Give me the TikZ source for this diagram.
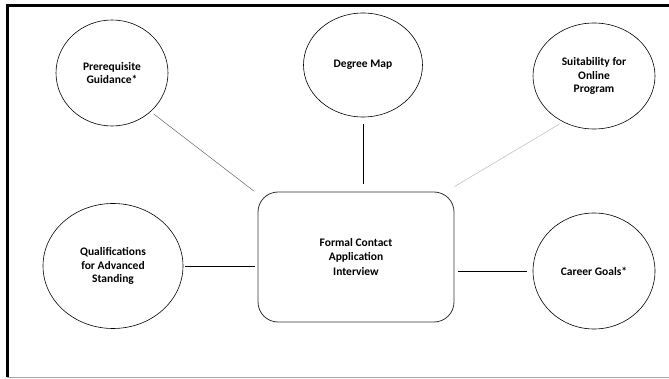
\documentclass[tikz,border=0pt]{standalone}
\usepackage{fontspec}
\setmainfont{Carlito}[BoldFont={Carlito Bold}]
\usetikzlibrary{shapes.geometric}
\begin{document}
\begin{tikzpicture}[x=1pt,y=-1pt,
        topic/.style={draw,ellipse,line width=0.6pt,inner sep=0pt,align=center,
          font=\bfseries\fontsize{11.5}{13.5}\selectfont},
        hub/.style={draw=black!80,line width=0.8pt,rounded corners=20pt,inner sep=0pt,
          minimum width=196pt,minimum height=130pt,align=center,
          font=\bfseries\fontsize{11.5}{14.5}\selectfont},
        link/.style={line width=0.9pt},
        thinlink/.style={line width=0.5pt,draw=gray!80!black}]
        \useasboundingbox (0,0) rectangle (669,379);
        % frame
        \draw[line width=3pt] (700,6) -- (7,6) -- (7,377);
        \draw[line width=1pt,gray!70] (7,377) -- (700,377);
        \node[hub] (contact) at (356,257) {Formal Contact\\Application\\Interview};
        \node[topic,minimum width=112pt,minimum height=106pt] (prereq) at (112,73) {Prerequisite\\Guidance*};
        \node[topic,minimum width=119pt,minimum height=104pt] (degree) at (363,65) {Degree Map};
        \node[topic,minimum width=122pt,minimum height=106pt] (suit) at (594,76) {Suitability for\\Online\\Program};
        \node[topic,minimum width=140pt,minimum height=125pt] (qual) at (113,266) {Qualifications\\for Advanced\\Standing};
        \node[topic,minimum width=122pt,minimum height=116pt] (career) at (594,271) {Career Goals*};
        \draw[thinlink,shorten <=4pt,shorten >=1pt] (prereq.315) -- ([xshift=-3pt]contact.north west);
        \draw[link,shorten <=7pt,shorten >=8pt] (degree.south) -- (degree.south |- contact.north);
        \draw[thinlink,draw=gray!55,shorten <=4pt] (suit.236) -- ([yshift=5pt]contact.north east);
        \draw[link,shorten <=2pt,shorten >=3pt] (qual.east) -- (qual.east -| contact.west);
        \draw[link,shorten <=6pt,shorten >=4pt] (career.west) -- (career.west -| contact.east);
      \end{tikzpicture}
\end{document}
